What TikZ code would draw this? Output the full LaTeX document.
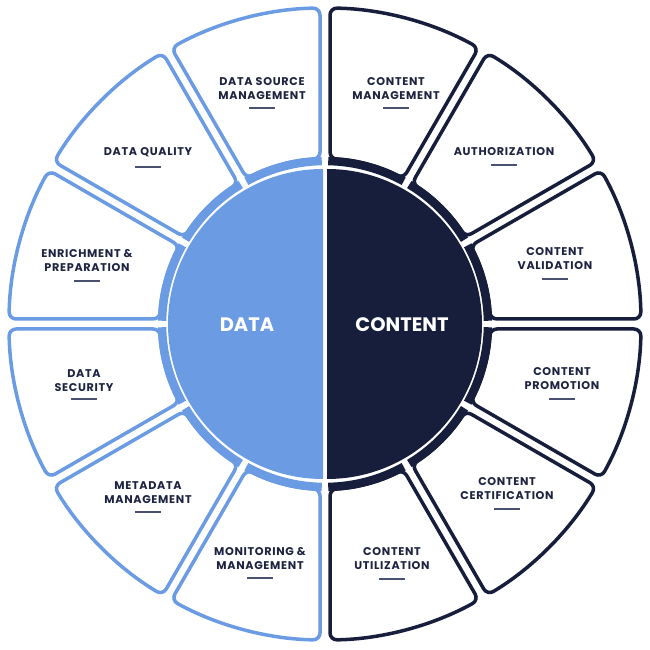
\documentclass[tikz,border=0pt]{standalone}
\usepackage{fontspec}
\setmainfont{Poppins}
\newfontfamily\lblfont[LetterSpace=6]{Poppins}
\usetikzlibrary{calc}
\definecolor{dataclr}{HTML}{6B9BE3}
\definecolor{contclr}{HTML}{171E3C}
\definecolor{txtclr}{HTML}{1E2340}
\definecolor{ulclr}{HTML}{4A5070}
\tikzset{
  segline/.style={line width=3.5pt, rounded corners=7pt, fill=white},
  bandline/.style={line width=8.5pt, line cap=butt},
  lbl/.style={inner sep=0pt, align=center, text=txtclr, font=\lblfont\fontsize{11.2pt}{14pt}\selectfont\bfseries},
  bigl/.style={inner sep=0pt, text=white, font=\fontsize{19.5pt}{22pt}\selectfont\bfseries},
  ul/.style={ulclr, line width=1.4pt}
}
\begin{document}
\begin{tikzpicture}[x=1pt,y=1pt]
\useasboundingbox (0,0) rectangle (650,650);
\coordinate (C) at (325,326);
% segments
\foreach \a/\c in {90/dataclr,120/dataclr,150/dataclr,180/dataclr,210/dataclr,240/dataclr,
                   -90/contclr,-60/contclr,-30/contclr,0/contclr,30/contclr,60/contclr}{
  \draw[segline,draw=\c] ($(C)+({\a+0.907}:316pt)$) arc[start angle={\a+0.907}, end angle={\a+30-0.907}, radius=316pt]
     -- ($(C)+({\a+30-1.737}:165pt)$) arc[start angle={\a+30-1.737}, end angle={\a+1.737}, radius=165pt] -- cycle;
  \draw[bandline,draw=\c] ($(C)+({\a+1.14}:163pt)$) arc[start angle={\a+1.14}, end angle={\a+30-1.14}, radius=163pt];
}
% centre halves
\fill[dataclr] ($(C)+(-2pt,155pt)$) arc[start angle=90, end angle=270, radius=155pt] -- cycle;
\fill[contclr] ($(C)+(2pt,155pt)$) arc[start angle=90, end angle=-90, radius=155pt] -- cycle;
\node[bigl] (data) at (247,325) {DATA};
\node[bigl] (content) at (402,325) {CONTENT};
% labels
\node[lbl] (l1) at (262,561) {DATA SOURCE\\MANAGEMENT};
\node[lbl] (l2) at (148,498) {DATA QUALITY};
\node[lbl] (l3) at (87,389) {ENRICHMENT \&\\PREPARATION};
\node[lbl] (l4) at (84,269.5) {DATA\\SECURITY};
\node[lbl] (l5) at (148,157) {METADATA\\MANAGEMENT};
\node[lbl] (l6) at (260,91.5) {MONITORING \&\\MANAGEMENT};
\node[lbl] (r1) at (396,561) {CONTENT\\MANAGEMENT};
\node[lbl] (r2) at (504,498) {AUTHORIZATION};
\node[lbl] (r3) at (555,391) {CONTENT\\VALIDATION};
\node[lbl] (r4) at (562,271) {CONTENT\\PROMOTION};
\node[lbl] (r5) at (507,161) {CONTENT\\CERTIFICATION};
\node[lbl] (r6) at (392,91) {CONTENT\\UTILIZATION};
% underlines
\foreach \n/\y in {l1/542,l2/483,l3/369,l4/251,l5/138,l6/72,r1/542,r2/485,r3/371,r4/251,r5/141,r6/71}{
  \draw[ul] (\n.center |- 0,\y) ++(-13,0) -- ++(26,0);
}
\end{tikzpicture}
\end{document}
